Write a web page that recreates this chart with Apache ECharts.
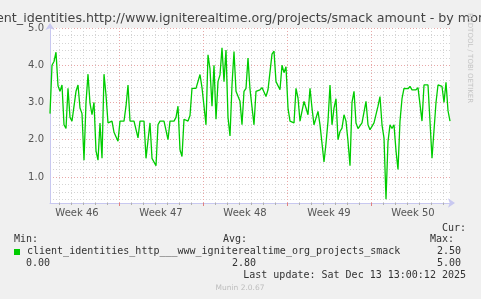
<!DOCTYPE html>
<html>
<head>
<meta charset="utf-8">
<script src="https://cdn.jsdelivr.net/npm/echarts@6/dist/echarts.min.js"></script>
<style>
html,body{margin:0;padding:0;background:#f0f0f0;}
#c{width:481px;height:299px;}
</style>
</head>
<body>
<div id="c"></div>
<script>
// ---- data ----
const titleText = 'client_identities.http://www.igniterealtime.org/projects/smack amount - by month';
const weekLabels = ['Week 46', 'Week 47', 'Week 48', 'Week 49', 'Week 50'];
const yTickValues = [1, 2, 3, 4, 5];
const seriesName = 'client_identities_http___www_igniterealtime_org_projects_smack';
const startHour = 30;   // hours offset of first sample
const stepHours = 4;    // hours between samples
const amount = [
  2.7, 4.0, 4.1, 4.35, 3.45, 3.3, 3.47, 2.4, 2.3, 3.38,
  2.6, 2.5, 2.5, 3.3, 3.47, 2.85, 2.7, 1.45, 3.0, 3.76,
  2.98, 2.67, 3.0, 1.7, 1.45, 2.45, 1.5, 3.76, 3.2, 2.45,
  2.5, 2.5, 2.2, 2.25, 1.96, 2.5, 2.5, 2.5, 2.9, 3.47,
  2.5, 2.5, 2.5, 2.5, 2.05, 2.5, 2.5, 2.5, 1.5, 1.5,
  2.45, 1.5, 1.5, 1.3, 2.4, 2.5, 2.5, 2.5, 2.45, 2.0,
  2.5, 2.5, 2.5, 2.6, 2.9, 1.73, 1.55, 2.55, 2.5, 2.5,
  2.65, 3.38, 3.38, 3.38, 3.4, 3.75, 3.4, 2.9, 2.4, 4.28,
  3.9, 2.9, 4.0, 2.55, 3.56, 3.74, 4.47, 3.56, 4.41, 2.6,
  2.1, 3.47, 4.37, 3.3, 3.3, 3.03, 2.4, 3.3, 3.38, 4.19,
  3.35, 3.3, 2.4, 3.3, 3.25, 3.34, 3.4, 3.38, 3.16, 3.34,
  3.34, 4.3, 4.38, 3.56, 3.52, 3.34, 4.0, 3.8, 3.96, 2.85,
  2.5, 2.5, 2.45, 3.38, 3.12, 2.5, 2.5, 3.03, 2.85, 2.67,
  3.38, 2.85, 2.4, 2.4, 2.76, 2.4, 2.4, 1.4, 1.9, 2.5,
  3.47, 2.4, 2.85, 3.1, 2.0, 2.22, 2.31, 2.67, 2.5, 1.96,
  1.3, 3.0, 3.3, 2.45, 2.3, 2.3, 2.45, 2.45, 3.03, 2.4,
  2.27, 2.36, 2.45, 2.5, 2.9, 3.16, 2.4, 2.04, 0.4, 1.95,
  2.4, 2.3, 2.4, 1.7, 1.2, 2.5, 3.1, 3.38, 3.43, 3.37,
  3.43, 3.34, 3.3, 3.34, 3.4, 3.38, 2.5, 3.47, 3.47, 3.47,
  3.47, 1.5, 1.5, 3.0, 3.47, 3.47, 3.43, 3.0, 3.54, 2.78,
  2.5
];
const legendStats = { cur: '2.50', min: '0.00', avg: '2.80', max: '5.00' };
const lastUpdate = 'Last update: Sat Dec 13 13:00:12 2025';
const footer = 'Munin 2.0.67';
const sideText = 'RRDTOOL / TOBI OETIKER';

// ---- layout / style ----
const PL = 50, PT = 28, PW = 400, PH = 175;
const yMin = 0.3, yMax = 5.0;
const pxPerUnit = PH / (yMax - yMin);
const hourPerPx = 2;
const axisColor = '#c8c8f0';
const minorColor = '#d4d4d4';
const majorColor = '#e8a8a8';
const green = '#00cc00';
const mono = '"DejaVu Sans Mono", monospace';
const sans = '"DejaVu Sans", sans-serif';

const chart = echarts.init(document.getElementById('c'), null, {renderer: 'canvas'});

const hidden = {show: false};
function hiddenX(grid) { return {gridIndex: grid, type: 'value', show: false, min: 0, max: 1}; }
function hiddenY(grid) { return {gridIndex: grid, type: 'value', show: false, min: 0, max: 1}; }

const xMin = startHour, xMax = startHour + PW * hourPerPx;
const dayCount = 32;
const dayCats = Array.from({length: dayCount}, () => '');
const weekLineCats = ['', '', ''];

const grids = [
  {left: PL, top: PT, width: PW, height: PH, show: true, backgroundColor: '#ffffff', borderWidth: 0, z: -5},
  {left: PL + 9, top: PT, width: dayCount * 12, height: PH, show: false},
  {left: PL + 69, top: PT, width: 3 * 84, height: PH, show: false},
  {left: PL - 15, top: PT, width: 5 * 84, height: PH, show: false},
  {left: PL, top: PT, width: PW, height: (yMax - 0.2) * pxPerUnit, show: false},
  {left: PL, top: PT, width: PW, height: (yMax - 0) * pxPerUnit, show: false}
];

const monoText = (x, y, text, align) => ({type: 'text', x: x, y: y,
  style: {text: text, font: '10px ' + mono, fill: '#333', align: align || 'left', verticalAlign: 'middle'}});

const option = {
  backgroundColor: '#f0f0f0',
  animation: false,
  textStyle: {fontFamily: sans},
  grid: grids,
  xAxis: [
    {gridIndex: 0, type: 'value', min: xMin, max: xMax,
      axisLine: {show: true, lineStyle: {color: axisColor, width: 1}, symbol: ['none', 'arrow'], symbolSize: [7, 7], symbolOffset: [0, 5]},
      axisTick: hidden, axisLabel: hidden, splitLine: hidden},
    {gridIndex: 1, type: 'category', data: dayCats, boundaryGap: true,
      axisLine: hidden, axisLabel: hidden,
      axisTick: {show: true, length: 2, lineStyle: {color: '#b0b0b0'}},
      splitLine: {show: true, lineStyle: {color: minorColor, type: [1, 2], width: 1}}},
    {gridIndex: 2, type: 'category', data: weekLineCats, boundaryGap: true,
      axisLine: hidden, axisLabel: hidden,
      axisTick: {show: true, length: 3, lineStyle: {color: '#e08080'}},
      splitLine: {show: true, lineStyle: {color: majorColor, type: [1, 2], width: 1}}},
    {gridIndex: 3, type: 'category', data: weekLabels, boundaryGap: true,
      axisLine: hidden, axisTick: hidden, splitLine: hidden,
      axisLabel: {show: true, color: '#555', fontSize: 10, fontFamily: sans, margin: 5, interval: 0}},
    hiddenX(4), hiddenX(5)
  ],
  yAxis: [
    {gridIndex: 0, type: 'value', min: yMin, max: yMax,
      axisLine: {show: true, lineStyle: {color: axisColor, width: 1}, symbol: ['none', 'arrow'], symbolSize: [7, 7], symbolOffset: [0, 5]},
      axisTick: hidden, axisLabel: hidden, splitLine: hidden},
    hiddenY(1), hiddenY(2), hiddenY(3),
    {gridIndex: 4, type: 'value', min: 0.2, max: 5.0, interval: 0.2,
      axisLine: hidden, axisTick: hidden, axisLabel: hidden,
      splitLine: {show: true, showMinLine: false, showMaxLine: false, lineStyle: {color: minorColor, type: [1, 2], width: 1}}},
    {gridIndex: 5, type: 'value', min: 0, max: 5, interval: 1,
      axisLine: hidden, axisTick: hidden,
      axisLabel: {show: true, showMinLabel: false, color: '#555', fontSize: 10, fontFamily: sans, margin: 6,
        formatter: v => (yTickValues.indexOf(v) >= 0 ? v.toFixed(1) : '')},
      splitLine: {show: true, showMinLine: false, lineStyle: {color: majorColor, type: [1, 2], width: 1}}}
  ],
  series: [{
    type: 'line', name: seriesName, xAxisIndex: 0, yAxisIndex: 0,
    data: amount.map((v, i) => [startHour + i * stepHours, v]),
    showSymbol: false, symbol: 'none', clip: true,
    lineStyle: {color: green, width: 1.3}, z: 10
  }],
  graphic: [
    {type: 'text', x: 240.5, y: 19, style: {text: titleText, font: '12.7px ' + sans, fill: '#444', align: 'center', verticalAlign: 'middle'}},
    {type: 'text', x: 470, y: 13, rotation: -Math.PI / 2, style: {text: sideText, font: '7px ' + sans, fill: '#c4c4c4', align: 'left', verticalAlign: 'middle'}},
    monoText(466, 228, 'Cur:', 'right'),
    monoText(14, 239.5, 'Min:'),
    monoText(223, 239.5, 'Avg:'),
    monoText(454, 239.5, 'Max:', 'right'),
    {type: 'rect', shape: {x: 14, y: 249, width: 6, height: 6}, style: {fill: green}},
    monoText(27, 251.7, seriesName),
    monoText(461, 251.7, legendStats.cur, 'right'),
    monoText(26, 263.7, legendStats.min),
    monoText(232, 263.7, legendStats.avg),
    monoText(461, 263.7, legendStats.max, 'right'),
    monoText(466, 275.3, lastUpdate, 'right'),
    {type: 'text', x: 240, y: 288, style: {text: footer, font: '7.5px ' + sans, fill: '#bdbdbd', align: 'center', verticalAlign: 'middle'}}
  ]
};
chart.setOption(option);
</script>
</body>
</html>
